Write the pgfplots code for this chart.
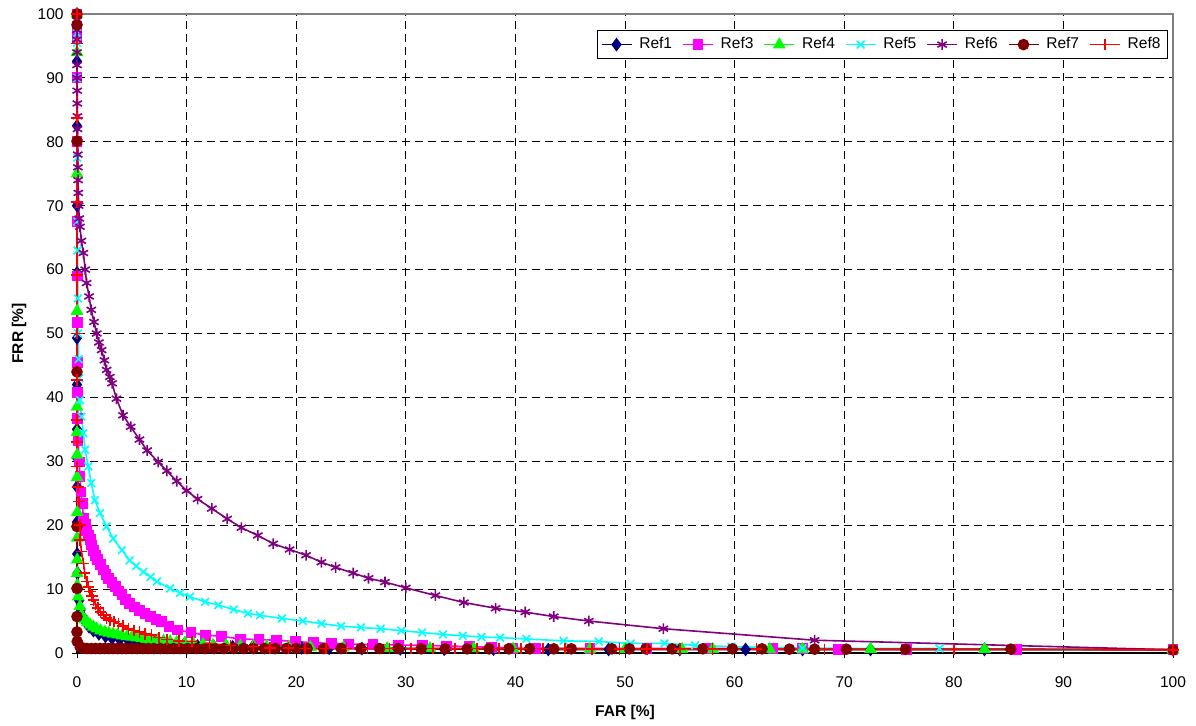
\documentclass[border=0pt]{standalone}
\usepackage{fontspec}
\setmainfont{Liberation Sans}
\usepackage{pgfplots}
\pgfplotsset{compat=1.18}

\definecolor{cRefOne}{RGB}{0,0,128}
\definecolor{cRefThree}{RGB}{255,0,255}
\definecolor{cRefFour}{RGB}{0,255,0}
\definecolor{cRefFive}{RGB}{0,255,255}
\definecolor{cRefSix}{RGB}{128,0,128}
\definecolor{cRefSeven}{RGB}{128,0,0}
\definecolor{cRefEight}{RGB}{255,0,0}

\newcommand{\chartfont}{\fontsize{7.8}{9.4}\selectfont}

\begin{document}
\begin{tikzpicture}
\useasboundingbox (0bp,0bp) rectangle (598bp,363bp);
\begin{axis}[
  at={(38.5bp,36.5bp)}, anchor=south west,
  scale only axis, width=548bp, height=319.5bp,
  xmin=0, xmax=100, ymin=0, ymax=100,
  xtick={0,10,...,100}, ytick={0,10,...,100},
  /pgf/number format/assume math mode=true,
  tick label style={font=\chartfont},
  xticklabel style={inner sep=0pt, anchor=north},
  yticklabel style={inner sep=0pt, anchor=east},
  xticklabel shift=9bp, yticklabel shift=4bp,
  tick pos=left, tick align=outside, major tick length=2.5bp,
  tick style={black, line width=0.5bp},
  axis line style={draw=gray, line width=0.6bp},
  grid=major,
  major grid style={black, line width=0.5bp, dash pattern=on 4bp off 2.5bp},
  xlabel={FAR [\%]}, ylabel={FRR [\%]},
  xlabel style={at={(axis description cs:0.5,0)}, anchor=base, yshift=-31.5bp,
    font=\chartfont\bfseries},
  ylabel style={at={(axis description cs:-0.0529,0.5)}, anchor=center, rotate=0,
    font=\chartfont\bfseries},
  clip=false,
  every axis plot/.append style={line width=0.8bp},
  every mark/.append style={solid},
  legend columns=-1,
  legend style={font=\chartfont, at={(1,1)}, anchor=north east, xshift=-2.5bp, yshift=-8bp,
    draw=black, line width=0.5bp, fill=white, inner sep=1.5bp,
    /tikz/every even column/.append style={column sep=3bp}},
  legend image code/.code={\draw[mark repeat=2,mark phase=2,#1] plot coordinates {(0bp,0bp)(7.5bp,0bp)(15bp,0bp)};
    \path (16.5bp,0bp);},
]
% left and bottom axis lines in black, top and right stay grey
\draw[black, line width=0.6bp] (rel axis cs:0,1) -- (rel axis cs:0,0) -- (rel axis cs:1,0);

% Ref1
\addplot[color=cRefOne, mark=diamond*, mark size=2.8bp] coordinates {
(0,100)(0,92.6)(0,82.5)(0,70)(0,59.5)(0,49.3)(0,42)(0,35)(0,30.5)(0,26)(0,20.5)
(0.02,15.5)(0.05,12.5)(0.1,10)(0.2,8.2)(0.35,6.8)(0.55,5.6)(0.8,4.8)(1.1,4.1)
(1.5,3.5)(2,3)(2.6,2.6)(3.2,2.3)(3.9,2.1)(4.7,1.9)(5.5,1.7)(6.4,1.55)(7.4,1.4)
(8.5,1.3)(9.7,1.2)(11,1.1)(12.5,1.0)(14.2,0.95)(16,0.9)(18,0.85)(20.5,0.8)
(23,0.75)(26,0.7)(29.5,0.65)(33.5,0.6)(38,0.6)(43,0.55)(48.5,0.55)(55,0.55)
(61,0.55)(66.2,0.55)(72.4,0.55)(82.8,0.55)(100,0.5)};
\addlegendentry{Ref1}

% Ref3
\addplot[color=cRefThree, mark=square*, mark size=2.3bp] coordinates {
(0,100)(0,98)(0,96.3)(0,90)(0,80)(0,67.5)(0.02,59)(0.03,51.7)(0.05,45.5)(0.06,40.8)
(0.07,36.7)(0.1,33.3)(0.2,29.9)(0.27,27.6)(0.37,25.2)(0.49,23.4)(0.58,21.1)(0.75,20.1)
(0.88,19.2)(1.05,18.4)(1.2,17.7)(1.35,16.9)(1.5,16.1)(1.7,15.3)(1.9,14.6)(2.15,13.8)
(2.4,13.0)(2.65,12.3)(2.9,11.7)(3.2,11.0)(3.5,10.4)(3.8,9.7)(4.1,9.1)(4.45,8.4)
(4.8,7.8)(5.25,7.2)(5.7,6.7)(6.2,6.2)(6.7,5.7)(7.2,5.3)(7.7,4.9)(8.4,4.2)(9.2,3.6)
(10.4,3.2)(11.7,2.8)(13.2,2.6)(14.9,2.2)(16.6,2.1)(18.2,2.0)(19.9,1.8)(21.6,1.6)
(23.2,1.5)(24.8,1.4)(27.0,1.3)(29.3,1.25)(31.5,1.2)(33.7,1.1)(35.8,1.0)(37.8,0.9)
(39.7,0.75)(41.8,0.7)(46.8,0.7)(52.0,0.7)(57.5,0.7)(63.5,0.7)(66.2,0.7)(69.5,0.6)
(75.7,0.6)(85.7,0.6)(100,0.5)};
\addlegendentry{Ref3}

% Ref4
\addplot[color=cRefFour, mark=triangle*, mark size=2.9bp] coordinates {
(0,100)(0,94)(0,75)(0,53.5)(0,38.5)(0,34.5)(0.01,31)(0.01,27.5)(0.02,22)(0.02,18)
(0.02,14.6)(0.02,12.5)(0.03,10.6)(0.1,8.8)(0.27,7.3)(0.4,5.9)(0.55,5.5)(0.7,5.2)
(0.95,4.8)(1.2,4.4)(1.5,4.1)(1.8,3.8)(2.15,3.5)(2.55,3.3)(2.9,3.15)(3.3,3.0)(3.7,2.85)
(4.1,2.7)(4.55,2.6)(5.0,2.5)(5.45,2.4)(5.9,2.3)(6.35,2.15)(6.8,2.0)(7.35,1.95)
(7.9,1.9)(8.5,1.8)(9.1,1.7)(9.85,1.6)(10.6,1.5)(11.5,1.35)(12.4,1.25)(13.6,1.2)
(14.9,1.1)(16.1,1.05)(17.3,1.0)(19.3,0.95)(21.3,0.9)(24.3,0.85)(28.3,0.7)(32.2,0.7)
(36.2,0.7)(39.8,0.65)(46.8,0.6)(50,0.6)(55.2,0.6)(58,0.6)(63.2,0.6)(66.2,0.6)
(72.4,0.6)(82.8,0.6)(100,0.5)};
\addlegendentry{Ref4}

% Ref5
\addplot[color=cRefFive, mark=x, mark size=2.7bp] coordinates {
(0,100)(0,97)(0,95.5)(0,90)(0.02,77.5)(0.03,67.5)(0.05,63)(0.08,55.5)(0.1,50)
(0.15,46)(0.2,43)(0.27,39.6)(0.4,37)(0.58,34.4)(0.73,31.8)(1.03,29.2)(1.3,26.6)
(1.64,23.9)(2.1,21.9)(2.7,19.8)(3.3,17.9)(4.1,16.1)(4.8,14.5)(5.4,13.6)(6.05,12.7)
(6.7,11.9)(7.3,11.2)(8.5,10.1)(9.4,9.4)(10.3,8.8)(11.7,8.0)(12.9,7.5)(14.3,6.8)
(15.6,6.2)(16.7,5.9)(18.7,5.4)(20.6,5.0)(22.3,4.6)(24.1,4.2)(25.9,4.0)(27.7,3.8)
(29.6,3.5)(31.5,3.2)(33.4,2.9)(35.2,2.7)(36.9,2.5)(38.6,2.4)(41.0,2.2)(44.4,1.9)
(47.6,1.8)(50.5,1.5)(53.6,1.5)(56.4,1.2)(59.7,1.0)(66.2,0.75)(78.7,0.7)(100,0.5)};
\addlegendentry{Ref5}

% Ref6
\addplot[color=cRefSix, mark=asterisk, mark size=2.7bp] coordinates {
(0,100)(0,99)(0,97.5)(0,96)(0,94)(0,92)(0,90)(0.02,88)(0.03,86)(0.04,84)(0.05,82)
(0.06,80)(0.07,78)(0.08,76)(0.1,74)(0.12,72)(0.15,70)(0.2,68)(0.27,66.7)(0.4,64.5)
(0.58,62.6)(0.75,60)(0.88,57.9)(1.1,55.8)(1.3,53.7)(1.55,51.8)(1.8,50)(2.0,48.6)
(2.25,47.4)(2.5,45.8)(2.7,44.3)(3.0,43.2)(3.2,42.2)(3.6,39.8)(4.2,37.2)(4.9,35.4)
(5.7,33.4)(6.4,31.7)(7.4,29.9)(8.2,28.5)(9.1,26.9)(10.0,25.4)(11.0,24.1)(12.3,22.6)
(13.7,21.0)(15.0,19.6)(16.5,18.4)(17.9,17.1)(19.4,16.2)(20.9,15.3)(22.3,14.2)
(23.6,13.4)(25.2,12.5)(26.6,11.7)(28.1,11.1)(30,10.2)(32.7,9.0)(35.3,7.9)(38.2,7.0)
(40.9,6.4)(43.5,5.7)(46.7,5.0)(53.5,3.8)(67.3,2.0)(100,0.5)};
\addlegendentry{Ref6}

% Ref7
\addplot[color=cRefSeven, mark=*, mark size=2.5bp] coordinates {
(0,100)(0,98.3)(0,80.1)(0,44)(0,19.8)(0,10.1)(0,5.7)(0,3.3)(0.02,1.8)(0.3,0.9)
(0.6,0.75)(0.9,0.7)(1.3,0.7)(1.7,0.7)(2.1,0.7)(2.5,0.7)(2.9,0.7)(3.3,0.7)(3.7,0.7)
(4.1,0.7)(4.5,0.7)(5.0,0.7)(5.5,0.7)(6.0,0.7)(6.5,0.7)(7.0,0.7)(7.6,0.7)(8.2,0.7)
(8.8,0.7)(9.4,0.7)(10.1,0.7)(10.9,0.7)(11.7,0.7)(12.5,0.7)(13.4,0.7)(14.3,0.7)
(15.2,0.7)(16.1,0.7)(17.1,0.7)(18.1,0.7)(19.1,0.7)(20.0,0.7)(21.0,0.7)(22.5,0.7)
(24.1,0.7)(25.9,0.7)(27.6,0.7)(29.3,0.7)(31.4,0.65)(33.6,0.65)(35.6,0.65)(37.6,0.65)
(39.4,0.65)(41.3,0.65)(43.5,0.65)(45.1,0.65)(48.8,0.65)(50.4,0.65)(51.9,0.65)
(54.3,0.65)(57.1,0.65)(59.8,0.65)(62.5,0.65)(65.0,0.6)(67.3,0.6)(70.2,0.6)(75.6,0.6)
(85.2,0.6)(100,0.5)};
\addlegendentry{Ref7}

% Ref8
\addplot[color=cRefEight, mark=+, mark size=2.9bp] coordinates {
(0,100)(0,95.4)(0,83.7)(0,70.6)(0,59.2)(0,50)(0,42.7)(0,36.5)(0,33)(0,29.2)(0.1,26)
(0.2,23.7)(0.27,20)(0.3,17.7)(0.4,15.9)(0.6,14)(0.7,12.5)(0.9,11.2)(1.05,10.3)
(1.2,9.6)(1.35,8.9)(1.5,8.3)(1.7,7.6)(1.9,7.0)(2.15,6.4)(2.4,5.9)(2.7,5.5)(3.0,5.2)
(3.4,4.9)(3.8,4.6)(4.2,4.2)(4.7,3.8)(5.2,3.5)(5.7,3.3)(6.2,3.0)(6.8,2.8)(7.5,2.4)
(8.2,2.1)(9.3,1.9)(10.5,1.8)(12.1,1.5)(14.0,1.15)(16.1,1.0)(17.6,0.8)(19.3,0.75)
(20.8,0.7)(22.7,0.7)(24.6,0.7)(26.5,0.7)(28.5,0.7)(30.5,0.7)(32.5,0.7)(34.5,0.7)
(36.5,0.7)(38.5,0.7)(40.5,0.7)(42.5,0.7)(44.5,0.7)(47,0.65)(49.5,0.65)(52,0.65)
(55,0.6)(58,0.6)(62,0.6)(68.2,0.55)(80,0.55)(100,0.5)};
\addlegendentry{Ref8}
\end{axis}
\end{tikzpicture}
\end{document}
